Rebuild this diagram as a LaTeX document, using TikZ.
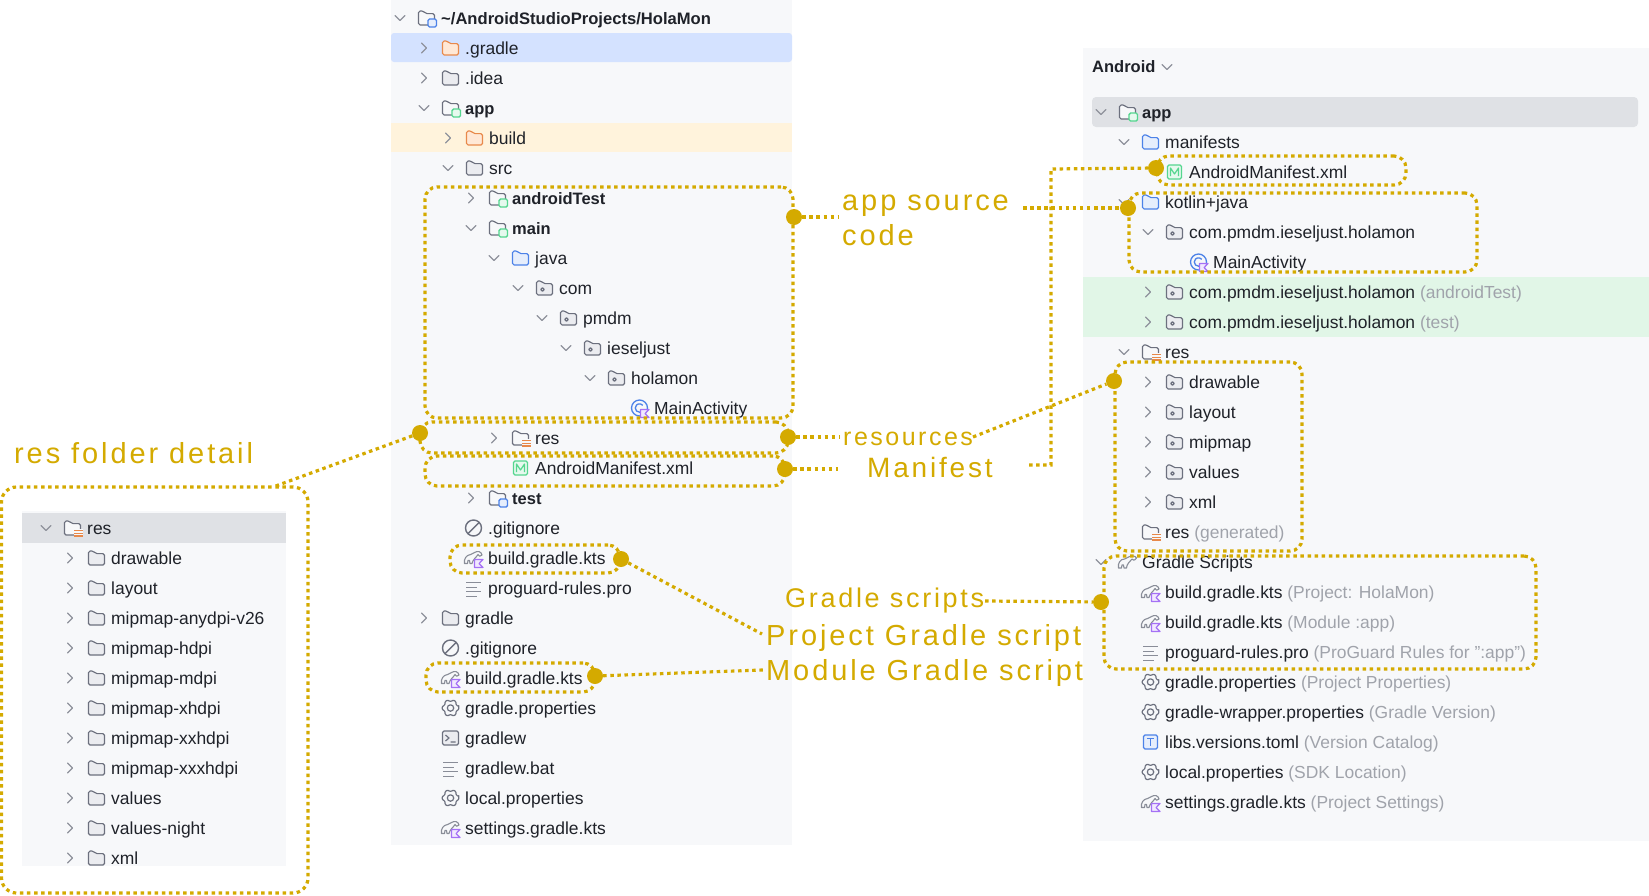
\documentclass[tikz,border=0pt]{standalone}
\usepackage{fontspec}
\usetikzlibrary{fit}
\setmainfont{Liberation Sans}
\newfontfamily\labf[LetterSpace=10]{Liberation Sans}
\definecolor{gold}{HTML}{D4AA00}
\definecolor{panel}{HTML}{F7F8FA}
\definecolor{rowsel}{HTML}{DFE1E5}
\definecolor{rowblue}{HTML}{D4E2FF}
\definecolor{rowyel}{HTML}{FFF3DC}
\definecolor{rowgrn}{HTML}{E1F6E7}
\definecolor{ink}{HTML}{1F2229}
\definecolor{note}{HTML}{A0A3AB}
\definecolor{ico}{HTML}{6C707E}
\definecolor{icofill}{HTML}{EBECF0}
\definecolor{chev}{HTML}{8F929C}
\definecolor{orng}{HTML}{E8894B}
\definecolor{orngf}{HTML}{FFE8D6}
\definecolor{blu}{HTML}{4C82E8}
\definecolor{bluf}{HTML}{E6EEFC}
\definecolor{grn}{HTML}{55D68F}
\definecolor{grnf}{HTML}{E6F9EE}
\definecolor{purp}{HTML}{A571F5}
\definecolor{purpf}{HTML}{F1E8FF}
\tikzset{
  rowtext/.style={anchor=base west,inner sep=0pt,text=ink,font=\fontsize{17.45}{20}\selectfont},
  rowmed/.style={rowtext,font=\fontsize{16.5}{20}\selectfont\bfseries},
  rowroot/.style={rowtext,font=\fontsize{16.6}{20}\selectfont\bfseries},
  goldline/.style={draw=gold,line width=3.2pt,dash pattern=on 3.5pt off 3.6pt},
  goldbox/.style={goldline,rounded corners=12pt,inner sep=0pt},
  golddot/.style={circle,fill=gold,draw=none,minimum size=16pt,inner sep=0pt},
  glabel/.style={anchor=base west,inner sep=0pt,text=gold,font=\fontsize{28}{33}\selectfont\labf,align=left},
  glabelbig/.style={glabel,font=\fontsize{29}{35}\selectfont\labf},
  ic/.style={draw=ico,line width=1.2pt,line join=round},
  chv/.style={draw=chev,line width=1.3pt,line join=round,line cap=round},
}
% chevrons
\newcommand\chevo[2]{\draw[chv] (#1-5,#2-2.5) -- (#1,#2+2.5) -- (#1+5,#2-2.5);}
\newcommand\chevc[2]{\draw[chv] (#1-2.5,#2-5) -- (#1+2.5,#2) -- (#1-2.5,#2+5);}
\newcommand\chevn[2]{}
% folder outline
\newcommand\folderpath[2]{\draw[draw=#1,fill=#2,line width=1.2pt,rounded corners=1.6pt] (-8,-7) -- (-3,-7) -- (-1,-4.4) -- (8,-4.4) -- (8,7) -- (-8,7) -- cycle;}
\newcommand\badgeK{\draw[draw=purp,fill=purpf,line width=1.2pt,line join=round] (1,1.5) -- (9.5,1.5) -- (5.6,5.5) -- (9.5,9.5) -- (1,9.5) -- cycle;}
% icons
\newcommand\icfold[2]{\begin{scope}[shift={(#1,#2)}]\folderpath{ico}{icofill}\end{scope}}
\newcommand\icoran[2]{\begin{scope}[shift={(#1,#2)}]\folderpath{orng}{orngf}\end{scope}}
\newcommand\icblue[2]{\begin{scope}[shift={(#1,#2)}]\folderpath{blu}{bluf}\end{scope}}
\newcommand\icmodg[2]{\begin{scope}[shift={(#1,#2)}]\folderpath{ico}{panel}\draw[draw=grn,fill=grnf,line width=1.4pt,rounded corners=1.5pt] (1.5,1) rectangle (10,9);\end{scope}}
\newcommand\icmodb[2]{\begin{scope}[shift={(#1,#2)}]\folderpath{ico}{panel}\draw[draw=blu,fill=bluf,line width=1.4pt,rounded corners=1.5pt] (1.5,1) rectangle (10,9);\end{scope}}
\newcommand\icpkg[2]{\begin{scope}[shift={(#1,#2)}]\folderpath{ico}{icofill}\draw[ic] (-2,1.5) circle (1.8pt);\end{scope}}
\newcommand\icres[2]{\begin{scope}[shift={(#1,#2)}]\folderpath{ico}{panel}\fill[panel] (1,1) rectangle (10,9);\draw[draw=orng,line width=1.2pt] (1.5,2.5) -- (10,2.5) (1.5,5.2) -- (10,5.2) (1.5,7.9) -- (10,7.9);\end{scope}}
\newcommand\iccls[2]{\begin{scope}[shift={(#1,#2)}]\draw[draw=blu,line width=1.3pt] (0,0) circle (8pt);\draw[draw=blu,line width=1.3pt] (45:4.2) arc (45:320:4.2);\badgeK\end{scope}}
\newcommand\icman[2]{\begin{scope}[shift={(#1,#2)}]\draw[draw=grn,fill=grnf,line width=1.3pt,rounded corners=1.5pt] (-7,-7) rectangle (7,7);\draw[draw=grn,line width=1.2pt,line join=round] (-4,4) -- (-4,-4) -- (0,2) -- (4,-4) -- (4,4);\end{scope}}
\newcommand\icgrd[2]{\begin{scope}[shift={(#1,#2)}]\draw[draw=ico!80,line width=1.1pt,line join=round,fill=panel] (-9,5.5) .. controls (-10,1) and (-7,-3) .. (-3,-3.5) -- (1,-5.5) .. controls (4,-7.5) and (8,-6.5) .. (8.5,-3) .. controls (7,-1) and (5,-1.5) .. (4.5,-3.5) .. controls (3,-1) and (-1,2) .. (-1.5,5.5) -- (-3.5,5.5) -- (-4,2.5) -- (-5.5,2.5) -- (-6,5.5) -- cycle;\badgeK\end{scope}}
\newcommand\icgrdp[2]{\begin{scope}[shift={(#1,#2)}]\draw[draw=ico!80,line width=1.1pt,line join=round,fill=panel] (-9,6) .. controls (-10,1) and (-7,-3) .. (-3,-3) -- (1,-5) .. controls (4,-7) and (8,-6) .. (9,-4) .. controls (7,-1) and (5,-1.5) .. (4.5,-3) .. controls (3,-1) and (-1,2) .. (-1,6) -- (-3.5,6) -- (-4,3) -- (-5.5,3) -- (-6,6) -- cycle;\end{scope}}
\newcommand\iclin[2]{\begin{scope}[shift={(#1,#2)}]\draw[draw=ico!80,line width=1pt] (-7.5,-5.5) -- (7.5,-5.5) (-7.5,-1) -- (3,-1) (-7.5,3.5) -- (7.5,3.5) (-7.5,8) -- (3,8);\end{scope}}
\newcommand\icgear[2]{\begin{scope}[shift={(#1,#2)}]\draw[ic,rounded corners=.8pt] (-10:8.4) \foreach \a in {0,60,...,300} {-- (\a-10:8.4) -- (\a+10:8.4) -- (\a+24:6.7) -- (\a+36:6.7)} -- cycle;\draw[ic] (0,0) circle (3.2pt);\end{scope}}
\newcommand\icign[2]{\begin{scope}[shift={(#1,#2)}]\draw[ic,line width=1.4pt] (0,0) circle (8pt);\draw[ic,line width=1.4pt] (-5.6,5.6) -- (5.6,-5.6);\end{scope}}
\newcommand\icterm[2]{\begin{scope}[shift={(#1,#2)}]\draw[ic,fill=icofill,rounded corners=1.5pt] (-8,-7) rectangle (8,7);\draw[ic] (-5,-3) -- (-1.5,0) -- (-5,3) (0,4) -- (5,4);\end{scope}}
\newcommand\ictom[2]{\begin{scope}[shift={(#1,#2)}]\draw[draw=blu,fill=bluf,line width=1.3pt,rounded corners=1.5pt] (-7,-7) rectangle (7,7);\draw[draw=blu,line width=1.4pt] (-3.5,-3.5) -- (3.5,-3.5) (0,-3.5) -- (0,4);\end{scope}}
\newcommand\icnone[2]{}
% one tree row
\newcount\rowno
\newcommand\Row[6]{%
  \global\advance\rowno by 1
  \csname chev#2\endcsname{#3-41}{#4}
  \csname ic#1\endcsname{#3-14.5}{#4}
  \node[#5] (t\the\rowno) at (#3,#4+6) {#6};
}
\newcommand\NT[1]{\textcolor{note}{#1}}
\begin{document}
\begin{tikzpicture}[x=1pt,y=-1pt]
\useasboundingbox (0,0) rectangle (1649,895);
\fill[white] (0,0) rectangle (1649,895);
% panels
\fill[panel] (391,0) rectangle (792,845);
\fill[panel] (22,511) rectangle (286,866);
\fill[panel] (1083,48) rectangle (1649,841);
\fill[rowsel] (22,513) rectangle (286,543);
\fill[rowblue,rounded corners=3pt] (391,33) -- (792,33) -- (792,62) -- (391,62) -- cycle;
\fill[rowyel] (391,123) rectangle (792,152);
\fill[rowgrn] (1083,277) rectangle (1649,337);
\fill[rowsel,rounded corners=4pt] (1092,97) rectangle (1638,127);
% middle tree
\Row{modb}{o}{441}{18}{rowroot}{\textasciitilde/AndroidStudioProjects/HolaMon}
\Row{oran}{c}{465}{48}{rowtext}{.gradle}
\Row{fold}{c}{465}{78}{rowtext}{.idea}
\Row{modg}{o}{465}{108}{rowmed}{app}
\Row{oran}{c}{489}{138}{rowtext}{build}
\Row{fold}{o}{489}{168}{rowtext}{src}
\Row{modg}{c}{512}{198}{rowmed}{androidTest}
\Row{modg}{o}{512}{228}{rowmed}{main}
\Row{blue}{o}{535}{258}{rowtext}{java}
\Row{pkg}{o}{559}{288}{rowtext}{com}
\Row{pkg}{o}{583}{318}{rowtext}{pmdm}
\Row{pkg}{o}{607}{348}{rowtext}{ieseljust}
\Row{pkg}{o}{631}{378}{rowtext}{holamon}
\Row{cls}{n}{654}{408}{rowtext}{MainActivity}
\Row{res}{c}{535}{438}{rowtext}{res}
\Row{man}{n}{535}{468}{rowtext}{AndroidManifest.xml}
\Row{modb}{c}{512}{498}{rowmed}{test}
\Row{ign}{n}{488}{528}{rowtext}{.gitignore}
\Row{grd}{n}{488}{558}{rowtext}{build.gradle.kts}
\Row{lin}{n}{488}{588}{rowtext}{proguard-rules.pro}
\Row{fold}{c}{465}{618}{rowtext}{gradle}
\Row{ign}{n}{465}{648}{rowtext}{.gitignore}
\Row{grd}{n}{465}{678}{rowtext}{build.gradle.kts}
\Row{gear}{n}{465}{708}{rowtext}{gradle.properties}
\Row{term}{n}{465}{738}{rowtext}{gradlew}
\Row{lin}{n}{465}{768}{rowtext}{gradlew.bat}
\Row{gear}{n}{465}{798}{rowtext}{local.properties}
\Row{grd}{n}{465}{828}{rowtext}{settings.gradle.kts}
% left tree
\Row{res}{o}{87}{528}{rowtext}{res}
\Row{fold}{c}{111}{558}{rowtext}{drawable}
\Row{fold}{c}{111}{588}{rowtext}{layout}
\Row{fold}{c}{111}{618}{rowtext}{mipmap-anydpi-v26}
\Row{fold}{c}{111}{648}{rowtext}{mipmap-hdpi}
\Row{fold}{c}{111}{678}{rowtext}{mipmap-mdpi}
\Row{fold}{c}{111}{708}{rowtext}{mipmap-xhdpi}
\Row{fold}{c}{111}{738}{rowtext}{mipmap-xxhdpi}
\Row{fold}{c}{111}{768}{rowtext}{mipmap-xxxhdpi}
\Row{fold}{c}{111}{798}{rowtext}{values}
\Row{fold}{c}{111}{828}{rowtext}{values-night}
\Row{fold}{c}{111}{858}{rowtext}{xml}
% right tree
\node[rowmed] (title) at (1092,72) {Android};
\chevo{1167}{67}
\Row{modg}{o}{1142}{112}{rowmed}{app}
\Row{blue}{o}{1165}{142}{rowtext}{manifests}
\Row{man}{n}{1189}{172}{rowtext}{AndroidManifest.xml}
\Row{blue}{o}{1165}{202}{rowtext}{kotlin+java}
\Row{pkg}{o}{1189}{232}{rowtext}{com.pmdm.ieseljust.holamon}
\Row{cls}{n}{1213}{262}{rowtext}{MainActivity}
\Row{pkg}{c}{1189}{292}{rowtext}{com.pmdm.ieseljust.holamon \NT{(androidTest)}}
\Row{pkg}{c}{1189}{322}{rowtext}{com.pmdm.ieseljust.holamon \NT{(test)}}
\Row{res}{o}{1165}{352}{rowtext}{res}
\Row{pkg}{c}{1189}{382}{rowtext}{drawable}
\Row{pkg}{c}{1189}{412}{rowtext}{layout}
\Row{pkg}{c}{1189}{442}{rowtext}{mipmap}
\Row{pkg}{c}{1189}{472}{rowtext}{values}
\Row{pkg}{c}{1189}{502}{rowtext}{xml}
\Row{res}{n}{1165}{532}{rowtext}{res \NT{(generated)}}
\Row{grdp}{o}{1142}{562}{rowtext}{Gradle Scripts}
\Row{grd}{n}{1165}{592}{rowtext}{build.gradle.kts \NT{(Project: HolaMon)}}
\Row{grd}{n}{1165}{622}{rowtext}{build.gradle.kts \NT{(Module :app)}}
\Row{lin}{n}{1165}{652}{rowtext}{proguard-rules.pro \NT{(ProGuard Rules for ":app")}}
\Row{gear}{n}{1165}{682}{rowtext}{gradle.properties \NT{(Project Properties)}}
\Row{gear}{n}{1165}{712}{rowtext}{gradle-wrapper.properties \NT{(Gradle Version)}}
\Row{tom}{n}{1165}{742}{rowtext}{libs.versions.toml \NT{(Version Catalog)}}
\Row{gear}{n}{1165}{772}{rowtext}{local.properties \NT{(SDK Location)}}
\Row{grd}{n}{1165}{802}{rowtext}{settings.gradle.kts \NT{(Project Settings)}}
% dotted boxes
\node[goldbox,fit={(425,187) (793,418)}] (bsrc) {};
\node[goldbox,fit={(420,422) (788,453)}] (bres) {};
\node[goldbox,fit={(425,456) (785,486)}] (bman) {};
\node[goldbox,fit={(450,545) (620,573)}] (bgr1) {};
\node[goldbox,fit={(426,663) (595,692)}] (bgr2) {};
\node[goldbox,fit={(1157,156) (1406,185)}] (rman) {};
\node[goldbox,fit={(1129,193) (1477,272)}] (rsrc) {};
\node[goldbox,fit={(1115,362) (1302,551)}] (rres) {};
\node[goldbox,fit={(1104,556) (1536,669)}] (rgrd) {};
\node[goldbox,rounded corners=15pt,fit={(1.5,487) (308,893)}] (bdet) {};
% labels
\node[glabelbig] (lsrc) at (842,245) {app source\\code};
\node[glabel,font=\fontsize{25}{30}\selectfont\labf] (lres) at (843,445) {resources};
\node[glabel] (lman) at (867,477) {Manifest};
\node[glabel,font=\fontsize{27}{33}\selectfont\labf] (lgrd) at (785,607) {Gradle scripts};
\node[glabelbig] (lprj) at (766,645) {Project Gradle script};
\node[glabelbig] (lmod) at (766,680) {Module Gradle script};
\node[glabelbig] (ldet) at (14,463) {res folder detail};
% connector ends
\coordinate (a1) at (838,217);
\coordinate (a2) at (1023,208);
\coordinate (a3) at (840,437);
\coordinate (a4) at (973,437);
\coordinate (a5) at (838,469);
\coordinate (a6) at (1029,465);
\coordinate (a6b) at (1051,465);
\coordinate (a6c) at (1051,169);
\coordinate (a7) at (273,487);
\coordinate (a8) at (762,634);
\coordinate (a9) at (763,670);
\coordinate (a10) at (985,601);
% dots
\node[golddot] (dsrc) at (794,217) {};
\node[golddot] (dresr) at (788,437) {};
\node[golddot] (dmanr) at (785,469) {};
\node[golddot] (dresl) at (420,433) {};
\node[golddot] (dgr1) at (621,559) {};
\node[golddot] (dgr2) at (595,676) {};
\node[golddot] (dman) at (1156,168) {};
\node[golddot] (dkot) at (1128,208) {};
\node[golddot] (drres) at (1114,381) {};
\node[golddot] (drgrd) at (1101,602) {};
% connectors
\draw[goldline] (dsrc) -- (a1);
\draw[goldline] (a2) -- (dkot);
\draw[goldline] (dresr) -- (a3);
\draw[goldline] (a4) -- (drres);
\draw[goldline] (dmanr) -- (a5);
\draw[goldline] (a6) -- (a6b) -- (a6c) -- (dman);
\draw[goldline] (dresl) -- (a7);
\draw[goldline] (dgr1) -- (a8);
\draw[goldline] (dgr2) -- (a9);
\draw[goldline] (a10) -- (drgrd);
\end{tikzpicture}
\end{document}
